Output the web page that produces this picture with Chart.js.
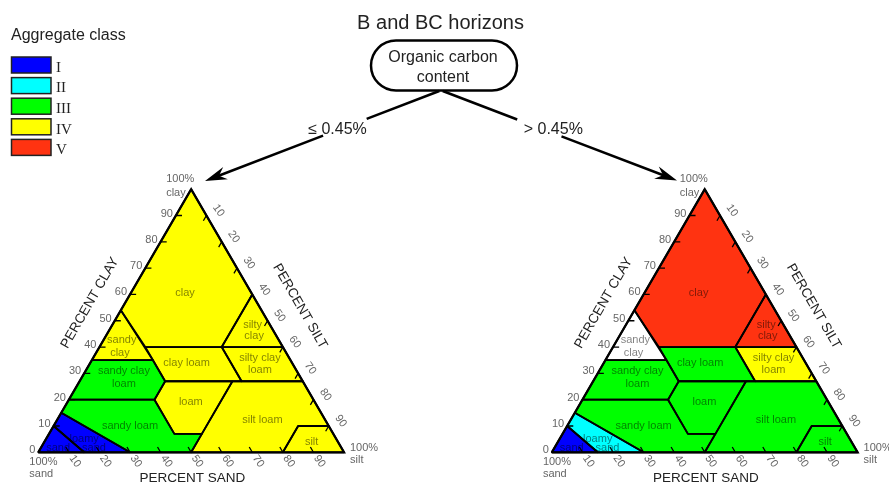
<!DOCTYPE html>
<html>
<head>
<meta charset="utf-8">
<style>html,body{margin:0;padding:0;background:#fff;overflow:hidden}canvas{display:block}</style>
<script src="https://cdn.jsdelivr.net/npm/chart.js@4"></script>
</head>
<body>
<canvas id="c" width="889" height="485"></canvas>
<script>
// ---------------- data ----------------
const titleText = 'B and BC horizons';
const decisionText = ['Organic carbon', 'content'];
const branchLabels = ['\u2264 0.45%', '> 0.45%'];
const legendTitle = 'Aggregate class';
const aggregateClasses = ['I', 'II', 'III', 'IV', 'V'];

const textureClasses = ['clay', 'silty clay', 'sandy clay', 'clay loam', 'silty clay loam',
  'sandy clay loam', 'loam', 'silt loam', 'silt', 'sandy loam', 'loamy sand', 'sand'];
const classLabelLines = [['clay'], ['silty', 'clay'], ['sandy', 'clay'], ['clay loam'],
  ['silty clay', 'loam'], ['sandy clay', 'loam'], ['loam'], ['silt loam'], ['silt'],
  ['sandy loam'], ['loamy', 'sand'], ['sand']];

// class boundary vertices: percent sand and percent clay (silt = rest)
const classSand = [
  [0, 0, 20, 45, 46],
  [0, 0, 20],
  [46, 45, 65],
  [20, 45, 45, 20],
  [0, 20, 20, 0],
  [65, 45, 45, 52, 80],
  [45, 23, 43, 52, 52],
  [23, 0, 0, 10, 20, 50, 43],
  [20, 10, 0, 0],
  [80, 52, 52, 43, 50, 70, 85],
  [70, 85, 90, 85],
  [85, 100, 90]
];
const classClay = [
  [100, 60, 40, 40, 54],
  [60, 40, 40],
  [54, 35, 35],
  [40, 40, 27, 27],
  [40, 40, 27, 27],
  [35, 35, 27, 20, 20],
  [27, 27, 7, 7, 20],
  [27, 27, 10, 10, 0, 0, 7],
  [0, 10, 10, 0],
  [20, 20, 7, 7, 0, 0, 15],
  [0, 0, 10, 15],
  [0, 0, 10]
];
// aggregate class per texture class, organic carbon <= 0.45% and > 0.45%
const lowCarbonClass = ['IV', 'IV', 'IV', 'IV', 'IV', 'III', 'IV', 'IV', 'IV', 'III', 'I', 'I'];
const highCarbonClass = ['V', 'V', '-', 'III', 'IV', 'III', 'III', 'III', 'III', 'III', 'II', 'I'];

const clayTicks = [0, 10, 20, 30, 40, 50, 60, 70, 80, 90];
const siltTicks = [10, 20, 30, 40, 50, 60, 70, 80, 90];
const sandTicks = [10, 20, 30, 40, 50, 60, 70, 80, 90];
const axisTitles = ['PERCENT CLAY', 'PERCENT SILT', 'PERCENT SAND'];
const cornerLabels = [['100%', 'clay'], ['100%', 'sand'], ['100%', 'silt']];

// ---------------- styles / layout ----------------
const classColors = { 'I': '#0000ff', 'II': '#00ffff', 'III': '#00ff00', 'IV': '#ffff00', 'V': '#ff3311', '-': '#ffffff' };
const SANS = '"Liberation Sans", Arial, Helvetica, sans-serif';
const SERIF = '"Liberation Serif", "Times New Roman", serif';
const RIGHT_OFFSET = 168;
const X_MIN = -12.53, X_MAX = 278.28, Y_MIN = -12.43, Y_MAX = 171.91;
// label line anchor positions in triangle units (x along base, y = clay)
const labelPos = [
  [[48.0, 60.4]],
  [[70.1, 48.5], [70.6, 44.1]],
  [[27.3, 42.6], [26.7, 37.8]],
  [[48.5, 33.8]],
  [[72.5, 35.9], [72.5, 31.4]],
  [[28.0, 30.8], [28.0, 26.0]],
  [[49.9, 19.2]],
  [[73.3, 12.4]],
  [[89.4, 3.8]],
  [[30.0, 9.9]],
  [[15.0, 5.2], [18.2, 1.7]],
  [[6.5, 1.7]]
];

function tp(sand, clay, off) { return { x: off + 100 - sand - clay / 2, y: clay }; }

const triangles = [
  { off: 0, classes: lowCarbonClass },
  { off: RIGHT_OFFSET, classes: highCarbonClass }
];

const datasets = [];
triangles.forEach(t => {
  textureClasses.forEach((name, ci) => {
    const pts = classSand[ci].map((s, k) => tp(s, classClay[ci][k], t.off));
    pts.push(pts[0]);
    datasets.push({
      label: name, data: pts, showLine: true, polyFill: classColors[t.classes[ci]],
      borderColor: '#000', borderWidth: 1.8, pointRadius: 0, fill: false, tension: 0,
      borderJoinStyle: 'round'
    });
  });
  datasets.push({
    label: 'outline', data: [tp(100, 0, t.off), tp(0, 0, t.off), tp(0, 100, t.off), tp(100, 0, t.off)],
    showLine: true, borderColor: '#000', borderWidth: 2.3, pointRadius: 0, fill: false, tension: 0,
    borderJoinStyle: 'miter'
  });
  const ticks = [];
  clayTicks.filter(v => v > 0).forEach(v => {
    const a = tp(100 - v, v, t.off), b = tp(98 - v, v, t.off);
    ticks.push(a, b, { x: b.x, y: null });
  });
  siltTicks.forEach(v => {
    const a = tp(0, 100 - v, t.off), b = tp(2, 98 - v, t.off);
    ticks.push(a, b, { x: b.x, y: null });
  });
  sandTicks.forEach(v => {
    const a = tp(100 - v, 0, t.off), b = tp(100 - v, 2, t.off);
    ticks.push(a, b, { x: b.x, y: null });
  });
  datasets.push({
    label: 'ticks', data: ticks, showLine: true, spanGaps: false, borderColor: '#000',
    borderWidth: 1.3, pointRadius: 0, fill: false, tension: 0
  });
});

function arrow(ctx, x0, y0, x1, y1, gapFrom, gapTo) {
  const dx = x1 - x0, dy = y1 - y0, len = Math.hypot(dx, dy);
  const ux = dx / len, uy = dy / len, nx = -uy, ny = ux;
  const L = 22, W = 6.5;
  ctx.beginPath();
  ctx.moveTo(x0, y0);
  ctx.lineTo(x0 + ux * len * gapFrom, y0 + uy * len * gapFrom);
  ctx.moveTo(x0 + ux * len * gapTo, y0 + uy * len * gapTo);
  ctx.lineTo(x1 - ux * L * 0.6, y1 - uy * L * 0.6);
  ctx.stroke();
  ctx.beginPath();
  ctx.moveTo(x1, y1);
  ctx.lineTo(x1 - ux * L + nx * W, y1 - uy * L + ny * W);
  ctx.lineTo(x1 - ux * L * 0.68, y1 - uy * L * 0.68);
  ctx.lineTo(x1 - ux * L - nx * W, y1 - uy * L - ny * W);
  ctx.closePath();
  ctx.fill();
}

const decor = {
  id: 'decor',
  beforeDatasetsDraw(chart) {
    const ctx = chart.ctx;
    chart.data.datasets.forEach((ds, i) => {
      if (!ds.polyFill) return;
      const pts = chart.getDatasetMeta(i).data;
      ctx.save();
      ctx.beginPath();
      pts.forEach((p, k) => k ? ctx.lineTo(p.x, p.y) : ctx.moveTo(p.x, p.y));
      ctx.closePath();
      ctx.fillStyle = ds.polyFill;
      ctx.fill();
      ctx.restore();
    });
  },
  afterDatasetsDraw(chart) {
    const ctx = chart.ctx;
    const xs = chart.scales.x, ys = chart.scales.y;
    const P = (pt) => ({ x: xs.getPixelForValue(pt.x), y: ys.getPixelForValue(pt.y) });
    ctx.save();
    triangles.forEach(t => {
      // class labels
      ctx.font = '11px ' + SANS;
      ctx.fillStyle = 'rgba(0,0,0,0.5)';
      ctx.textAlign = 'center';
      ctx.textBaseline = 'middle';
      classLabelLines.forEach((lines, ci) => {
        lines.forEach((txt, li) => {
          const pos = labelPos[ci][li];
          const p = P({ x: t.off + pos[0], y: pos[1] });
          ctx.fillText(txt, p.x, p.y);
        });
      });
      // tick labels
      ctx.fillStyle = '#666';
      ctx.font = '11px ' + SANS;
      ctx.textAlign = 'right';
      clayTicks.forEach(v => {
        const p = P(tp(100 - v, v, t.off));
        ctx.fillText(String(v), p.x - 3, p.y - 2);
      });
      ctx.textAlign = 'center';
      siltTicks.forEach(v => {
        const p = P(tp(0, 100 - v, t.off));
        ctx.save(); ctx.translate(p.x + 12, p.y - 5); ctx.rotate(55 * Math.PI / 180);
        ctx.fillText(String(v), 0, 0); ctx.restore();
      });
      sandTicks.forEach(v => {
        const p = P(tp(100 - v, 0, t.off));
        ctx.save(); ctx.translate(p.x + 6, p.y + 9); ctx.rotate(55 * Math.PI / 180);
        ctx.fillText(String(v), 0, 0); ctx.restore();
      });
      // corner labels
      const apex = P(tp(0, 100, t.off)), bl = P(tp(100, 0, t.off)), br = P(tp(0, 0, t.off));
      ctx.textAlign = 'left';
      ctx.fillText(cornerLabels[0][0], apex.x - 25, apex.y - 10);
      ctx.fillText(cornerLabels[0][1], apex.x - 25, apex.y + 3.5);
      ctx.fillText(cornerLabels[1][0], bl.x - 9, bl.y + 9.5);
      ctx.fillText(cornerLabels[1][1], bl.x - 9, bl.y + 21.5);
      ctx.fillText(cornerLabels[2][0], br.x + 6, br.y - 4.5);
      ctx.fillText(cornerLabels[2][1], br.x + 6, br.y + 8);
      // axis titles
      ctx.fillStyle = '#222';
      ctx.font = '13.5px ' + SANS;
      ctx.textAlign = 'center';
      ctx.save(); ctx.translate(bl.x + 51.7, bl.y - 149.4); ctx.rotate(-60 * Math.PI / 180);
      ctx.fillText(axisTitles[0], 0, 0); ctx.restore();
      ctx.save(); ctx.translate(bl.x + 261.7, bl.y - 146); ctx.rotate(60 * Math.PI / 180);
      ctx.fillText(axisTitles[1], 0, 0); ctx.restore();
      ctx.fillText(axisTitles[2], bl.x + 154, bl.y + 25.5);
    });

    // title
    ctx.fillStyle = '#222';
    ctx.textAlign = 'center';
    ctx.textBaseline = 'alphabetic';
    ctx.font = '20px ' + SANS;
    ctx.fillText(titleText, 440.5, 28.5);
    // decision box
    ctx.strokeStyle = '#000';
    ctx.lineWidth = 2.5;
    ctx.beginPath();
    ctx.roundRect(371, 40.5, 146, 50, 25);
    ctx.stroke();
    ctx.font = '16px ' + SANS;
    ctx.fillText(decisionText[0], 443, 62);
    ctx.fillText(decisionText[1], 443, 81.5);
    // branches
    ctx.fillStyle = '#000';
    ctx.lineWidth = 2.5;
    arrow(ctx, 439.3, 91, 205, 181, 0.31, 0.496);
    arrow(ctx, 442.7, 91, 677, 180.5, 0.318, 0.507);
    ctx.fillStyle = '#222';
    ctx.font = '16px ' + SANS;
    ctx.fillText(branchLabels[0], 337.5, 134);
    ctx.fillText(branchLabels[1], 553.3, 134);

    // legend
    ctx.textAlign = 'left';
    ctx.font = '16px ' + SANS;
    ctx.fillText(legendTitle, 11, 40);
    ctx.font = '15px ' + SERIF;
    aggregateClasses.forEach((c, i) => {
      const y = 57 + i * 20.6;
      ctx.fillStyle = classColors[c];
      ctx.fillRect(11.5, y, 39.5, 16);
      ctx.strokeStyle = '#222';
      ctx.lineWidth = 1.5;
      ctx.strokeRect(11.5, y, 39.5, 16);
      ctx.fillStyle = '#222';
      ctx.fillText(c, 56, y + 14.8);
    });
    ctx.restore();
  }
};

new Chart(document.getElementById('c'), {
  type: 'scatter',
  data: { datasets },
  options: {
    responsive: false,
    devicePixelRatio: 1,
    animation: false,
    events: [],
    layout: { padding: 0 },
    plugins: { legend: { display: false }, tooltip: { enabled: false }, title: { display: false } },
    scales: {
      x: { type: 'linear', min: X_MIN, max: X_MAX, display: false },
      y: { type: 'linear', min: Y_MIN, max: Y_MAX, display: false }
    }
  },
  plugins: [decor]
});
</script>
</body>
</html>
